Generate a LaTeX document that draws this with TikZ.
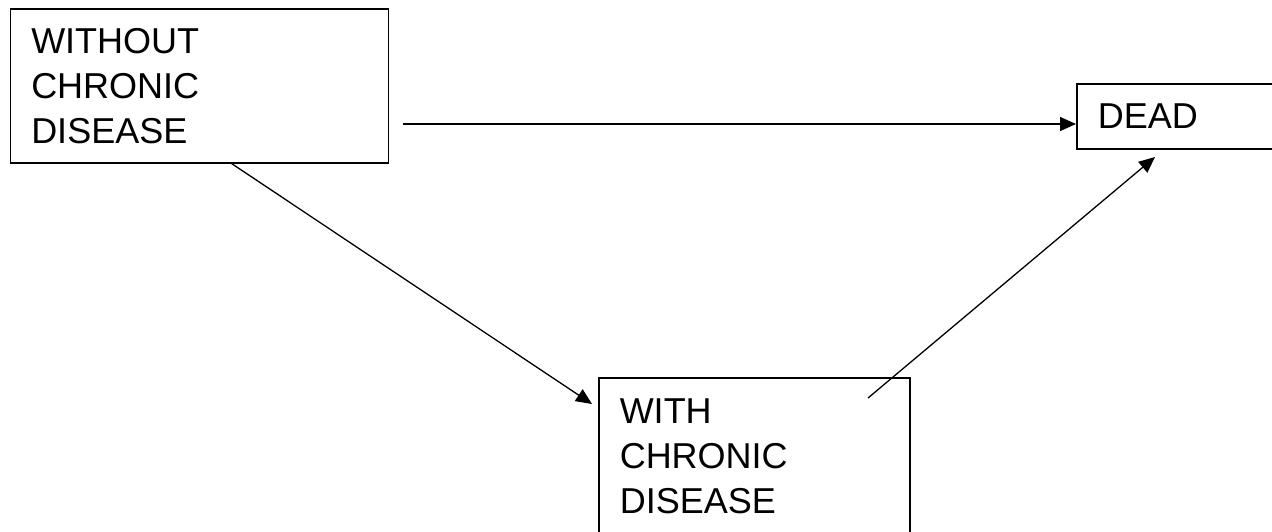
\documentclass[tikz,border=0pt]{standalone}
\usepackage{fontspec}
\setmainfont{Liberation Sans}
\usetikzlibrary{arrows.meta,positioning}

\begin{document}
\begin{tikzpicture}[x=0.5pt,y=-0.5pt,
  state/.style={draw,line width=0.75pt,align=left,anchor=north west,inner xsep=10.5pt,inner ysep=0pt,font=\fontsize{18}{22.5}\selectfont},
  arr/.style={-{Triangle[length=8pt,width=7pt]},line width=0.65pt}]
\clip (0,0) rectangle (1272,531);
\node[state,text width=168pt,minimum height=77pt] (without) at (9.5,8) {WITHOUT\\CHRONIC\\DISEASE};
\node[state,text width=79pt,minimum height=32.5pt] (dead) at (1076,83) {DEAD};
\node[state,text width=134.5pt,minimum height=79pt] (with) at (598,377) {WITH\\CHRONIC\\DISEASE};
% free ends of the connectors
\coordinate (hstart) at (403,124);
\coordinate (wtip) at (592,404);
\coordinate (dstart) at (868,398);
\coordinate (dtip) at (1155,157);
\draw[arr] (hstart) -- (dead.west |- hstart);
\draw[arr] ([xshift=111pt]without.south west) -- (wtip);
\draw[arr] (dstart) -- (dtip);
\end{tikzpicture}
\end{document}
